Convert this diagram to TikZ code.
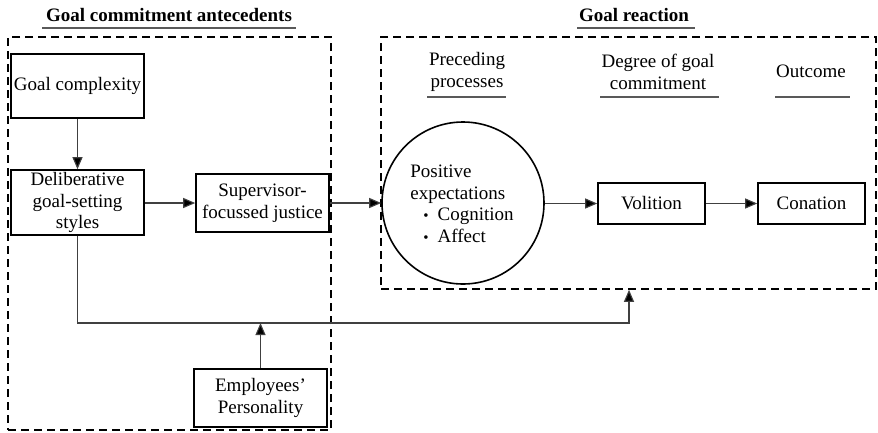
\documentclass[tikz,border=0pt]{standalone}
\usepackage{fontspec}
\setmainfont{Liberation Serif}
\usetikzlibrary{arrows.meta}
\begin{document}
\begin{tikzpicture}[x=1pt,y=-1pt,
  txt/.style={font=\fontsize{19}{21.5}\selectfont},
  box/.style={txt,draw,line width=1.6pt,align=center,inner sep=0pt},
  frame/.style={draw,dashed,line width=1.6pt,dash pattern=on 8pt off 5pt,inner sep=0pt},
  link/.style={draw=black!75,line width=1.1pt,-{Triangle[length=12pt,width=10pt,fill=black]}},
  rule/.style={draw=black!65,line width=1.1pt},
  head/.style={txt,font=\fontsize{19}{21.5}\selectfont\bfseries,inner sep=0pt},
  sub/.style={txt,align=center,inner sep=0pt}]
\useasboundingbox (0,0) rectangle (878,432);

% group frames
\node[frame,minimum width=323pt,minimum height=393pt] (left) at (169.5,233.5) {};
\node[frame,minimum width=495pt,minimum height=252pt] (right) at (628.5,163) {};

% group headings
\node[head] (lhead) at (169,15) {Goal commitment antecedents};
\draw[rule] (42,28) -- (296,28);
\node[head] (rhead) at (634,15) {Goal reaction};
\draw[rule] (577,28) -- (695,28);

% column headings
\node[sub] (pp) at (467,72) {Preceding\\processes};
\draw[rule] (427,97) -- (506,97);
\node[sub] (dg) at (658,72) {Degree of goal\\commitment};
\draw[rule] (600,97) -- (719,97);
\node[sub] (oc) at (811,71) {Outcome};
\draw[rule] (775,97) -- (850,97);

% boxes
\node[box,minimum width=133pt,minimum height=64pt] (gc) at (77.5,86) {Goal complexity};
\node[box,minimum width=133pt,minimum height=65pt] (dl) at (77.5,202.5) {Deliberative\\goal-setting\\styles};
\node[box,minimum width=133pt,minimum height=58pt] (sj) at (262.5,203) {Supervisor-\\focussed justice};
\node[box,minimum width=133pt,minimum height=58pt] (ep) at (260.5,398) {Employees'\\Personality};
\node[draw,circle,line width=1.6pt,minimum size=162pt,inner sep=0pt] (pe) at (463,203) {};
\node[txt,align=left,inner sep=0pt] (pet) at (462,204) {Positive\\expectations\\\hspace{13pt}{\fontsize{15}{15}\selectfont\textbullet}\hspace{9pt}Cognition\\\hspace{13pt}{\fontsize{15}{15}\selectfont\textbullet}\hspace{9pt}Affect};
\node[box,minimum width=107pt,minimum height=41pt] (vo) at (651.5,203.5) {Volition};
\node[box,minimum width=107pt,minimum height=41pt] (co) at (811.5,203.5) {Conation};

% connectors
\coordinate (fbl) at (77.5,323);
\coordinate (fbm) at (260.5,323);
\coordinate (fbr) at (629,323);
\draw[link] (gc) -- (dl);
\draw[link] (dl.east |- sj.west) -- (sj.west);
\draw[link] (sj.east) -- (pe.west);
\draw[link] (pe.east |- vo.west) -- (vo.west);
\draw[link] (vo.east) -- (co.west);
\draw[link] (dl.south) -- (fbl) -- (fbr) -- (fbr |- right.south);
\draw[link] (ep.north) -- (fbm);
\end{tikzpicture}
\end{document}
